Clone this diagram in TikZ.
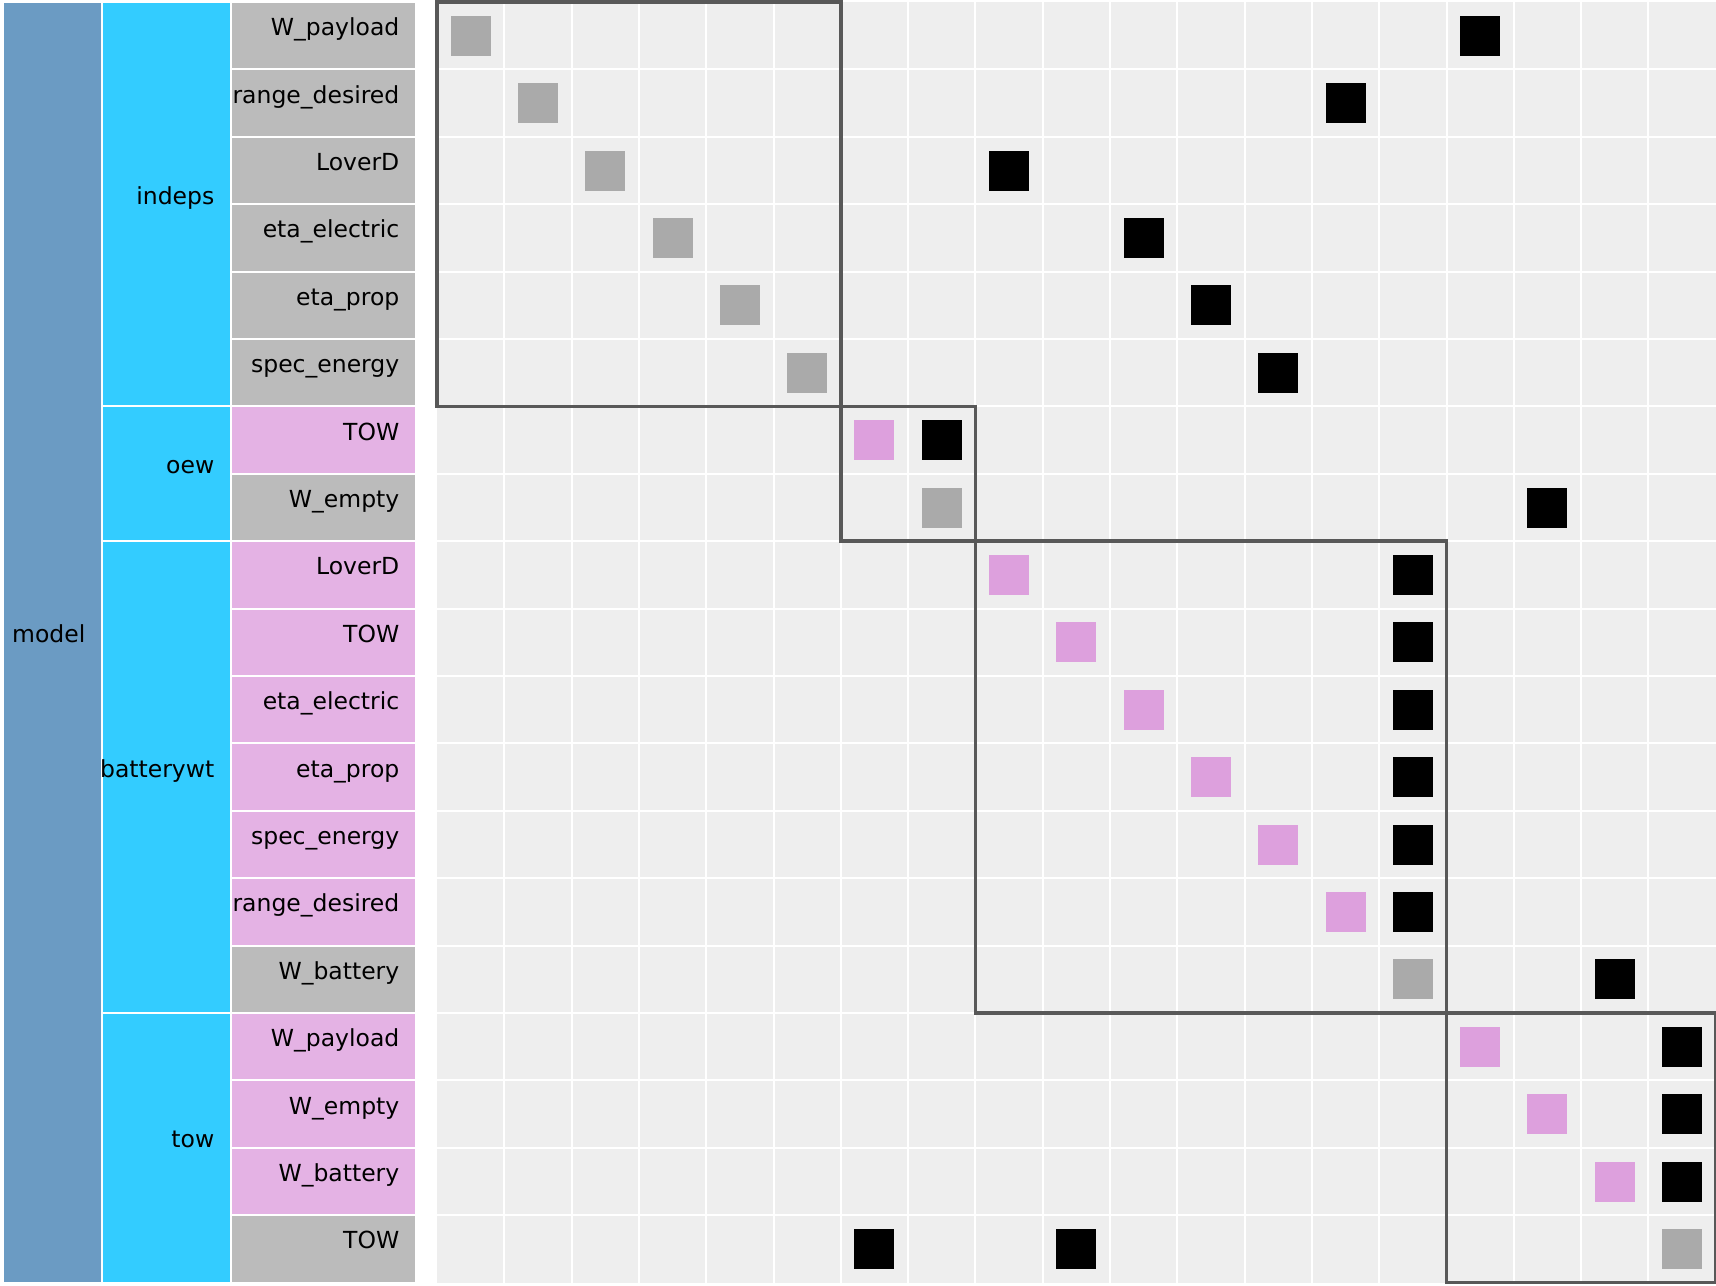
\documentclass[tikz,border=0pt]{standalone}
\usepackage{fontspec}
\setmainfont{DejaVu Sans}
\definecolor{modelc}{HTML}{6B9BC3}
\definecolor{compc}{HTML}{33CCFF}
\definecolor{outc}{HTML}{BBBBBB}
\definecolor{inc}{HTML}{E4B2E4}
\definecolor{sqpink}{HTML}{DDA0DD}
\definecolor{sqgray}{HTML}{AAAAAA}
\definecolor{mbg}{HTML}{EEEEEE}
\definecolor{outl}{HTML}{585858}
\begin{document}
\begin{tikzpicture}[x=1pt,y=-1pt,
  lbl/.style={anchor=base east, inner sep=0pt, font=\fontsize{23.5}{28}\selectfont},
  cellbox/.style={draw=white, line width=2pt},
  gridline/.style={draw=white, line width=2pt},
  grpbox/.style={draw=outl, line width=3.5pt}]
\def\cx{67.3}
\def\cy{67.4}
\def\mx{437}
\def\my{2}
\useasboundingbox (0,0) rectangle (1716,1285);
\fill[white] (0,0) rectangle (1716,1285);
% matrix background and grid
\fill[mbg] (\mx,\my) rectangle (1716,{\my+19*\cy});
\foreach \k in {1,...,18} {
  \draw[gridline] ({\mx+\k*\cx},\my) -- ({\mx+\k*\cx},{\my+19*\cy});
  \draw[gridline] (\mx,{\my+\k*\cy}) -- (1716,{\my+\k*\cy});
}
% left hierarchy
\draw[cellbox, fill=modelc] (3,\my) rectangle (102,{\my+19*\cy});
\foreach \a/\b in {0/6,6/8,8/15,15/19}
  \draw[cellbox, fill=compc] (102,{\my+\a*\cy}) rectangle (231,{\my+\b*\cy});
\foreach \i/\c in {0/outc,1/outc,2/outc,3/outc,4/outc,5/outc,6/inc,7/outc,8/inc,9/inc,10/inc,11/inc,12/inc,13/inc,14/outc,15/inc,16/inc,17/inc,18/outc}
  \draw[cellbox, fill=\c] (231,{\my+\i*\cy}) rectangle (416,{\my+(\i+1)*\cy});
% labels
\node[lbl] (gmodel) at (85.5,{\my+9.5*\cy}) {model};
\node[lbl] (gindeps) at (214.5,{\my+3*\cy}) {indeps};
\node[lbl] (goew) at (214.5,{\my+7*\cy}) {oew};
\node[lbl] (gbattery) at (214.5,{\my+11.5*\cy}) {batterywt};
\node[lbl] (gtow) at (214.5,{\my+17*\cy}) {tow};
\foreach \i/\t in {0/W\_payload,1/range\_desired,2/LoverD,3/eta\_electric,4/eta\_prop,5/spec\_energy,6/TOW,7/W\_empty,8/LoverD,9/TOW,10/eta\_electric,11/eta\_prop,12/spec\_energy,13/range\_desired,14/W\_battery,15/W\_payload,16/W\_empty,17/W\_battery,18/TOW}
  \node[lbl] (v\i) at (399.5,{\my+(\i+0.5)*\cy}) {\t};
% diagonal squares
\foreach \i/\c in {0/sqgray,1/sqgray,2/sqgray,3/sqgray,4/sqgray,5/sqgray,6/sqpink,7/sqgray,8/sqpink,9/sqpink,10/sqpink,11/sqpink,12/sqpink,13/sqpink,14/sqgray,15/sqpink,16/sqpink,17/sqpink,18/sqgray}
  \fill[\c] ({\mx+(\i+0.5)*\cx-20},{\my+(\i+0.5)*\cy-20}) rectangle +(40,40);
% off-diagonal squares
\foreach \i/\j in {0/15,1/13,2/8,3/10,4/11,5/12,6/7,7/16,8/14,9/14,10/14,11/14,12/14,13/14,14/17,15/18,16/18,17/18,18/6,18/9}
  \fill[black] ({\mx+(\j+0.5)*\cx-20},{\my+(\i+0.5)*\cy-20}) rectangle +(40,40);
% group outlines
\foreach \a/\b in {0/6,6/8,8/15,15/19}
  \draw[grpbox] ({\mx+\a*\cx},{\my+\a*\cy}) rectangle ({\mx+\b*\cx},{\my+\b*\cy});
\end{tikzpicture}
\end{document}
